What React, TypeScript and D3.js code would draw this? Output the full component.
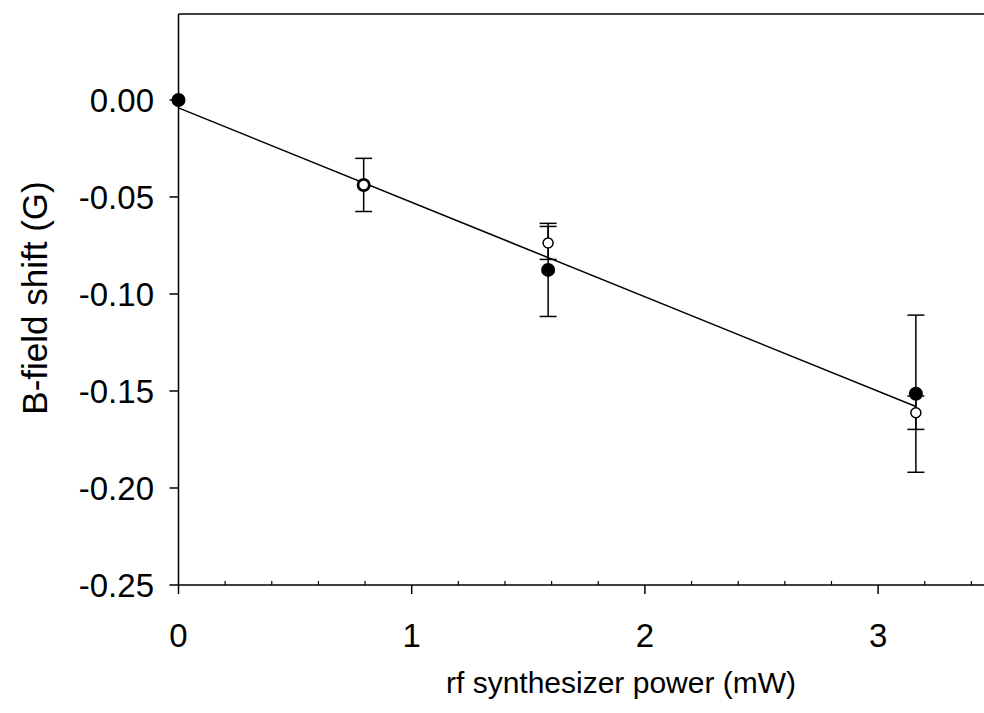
import React from "react";
import * as d3 from "d3";

const W = 984;
const H = 713;

const powerX = [0, 0.794, 1.585, 3.162];
const filledY = [0.0, -0.0438, -0.0876, -0.1514];
const filledErr = [0, 0.0137, 0.024, 0.0405];
const openX = [0.794, 1.585, 3.162];
const openY = [-0.0438, -0.0737, -0.1612];
const openErr = [0, 0.0085, 0.0086];
const fitX = [0, 3.162];
const fitY = [-0.0041, -0.158];

const xMajor = [0, 1, 2, 3];
const xMinor = d3.range(0, 3.5, 0.2).filter((v) => Math.abs(v - Math.round(v)) > 1e-6);
const yTicks = [0.0, -0.05, -0.1, -0.15, -0.2, -0.25];

const xLabel = "rf synthesizer power (mW)";
const yLabel = "B-field shift (G)";

export default function App() {
  const x = d3.scaleLinear().domain([0, 3.5]).range([178.5, 994.7]);
  const y = d3.scaleLinear().domain([-0.25, 0.0443]).range([585, 14]);
  const line = d3
    .line<number>()
    .x((d, i) => x(fitX[i]))
    .y((d) => y(d));
  const font = "'Liberation Sans', Arial, sans-serif";
  const capW = 8.5;
  const errBar = (cx: number, cy: number, e: number, key: string) =>
    e > 0 ? (
      <g key={key} stroke="#000" strokeWidth={1.5}>
        <line x1={x(cx)} x2={x(cx)} y1={y(cy + e)} y2={y(cy - e)} />
        <line x1={x(cx) - capW} x2={x(cx) + capW} y1={y(cy + e)} y2={y(cy + e)} />
        <line x1={x(cx) - capW} x2={x(cx) + capW} y1={y(cy - e)} y2={y(cy - e)} />
      </g>
    ) : null;
  return (
    <svg
      width={W}
      height={H}
      style={{ position: "absolute", left: 0, top: 0, background: "#fff" }}
      fontFamily={font}
    >
      <rect x={0} y={0} width={W} height={H} fill="#fff" />
      {/* frame */}
      <line x1={x(0)} x2={W} y1={y(0.0443)} y2={y(0.0443)} stroke="#000" strokeWidth={1.5} />
      <line x1={x(0)} x2={x(0)} y1={14} y2={585} stroke="#000" strokeWidth={1.5} />
      <line x1={x(0)} x2={W} y1={585} y2={585} stroke="#000" strokeWidth={1.5} />
      {/* x ticks */}
      {xMajor.map((t) => (
        <g key={"xm" + t}>
          <line x1={x(t)} x2={x(t)} y1={585} y2={594} stroke="#000" strokeWidth={1.5} />
          <text x={x(t)} y={647} textAnchor="middle" fontSize={33}>
            {t}
          </text>
        </g>
      ))}
      {xMinor.map((t, i) => (
        <line key={"xn" + i} x1={x(t)} x2={x(t)} y1={585} y2={581} stroke="#000" strokeWidth={1.2} />
      ))}
      {/* y ticks */}
      {yTicks.map((t) => (
        <g key={"y" + t}>
          <line x1={x(0) - 9} x2={x(0)} y1={y(t)} y2={y(t)} stroke="#000" strokeWidth={1.5} />
          <text x={154} y={y(t) + 12} textAnchor="end" fontSize={33}>
            {t.toFixed(2)}
          </text>
        </g>
      ))}
      {/* axis titles */}
      <text x={621} y={693} textAnchor="middle" fontSize={30}>
        {xLabel}
      </text>
      <text
        transform={`translate(47,${298}) rotate(-90)`}
        textAnchor="middle"
        fontSize={35}
      >
        {yLabel}
      </text>
      {/* fit line */}
      <path d={line(fitY) || ""} fill="none" stroke="#000" strokeWidth={1.5} />
      {/* error bars */}
      {powerX.map((px, i) => errBar(px, filledY[i], filledErr[i], "fe" + i))}
      {openX.map((px, i) => errBar(px, openY[i], openErr[i], "oe" + i))}
      {/* filled points */}
      {powerX.map((px, i) => (
        <circle key={"f" + i} cx={x(px)} cy={y(filledY[i])} r={7} fill="#000" />
      ))}
      {/* open points */}
      {openX.map((px, i) => (
        <circle
          key={"o" + i}
          cx={x(px)}
          cy={y(openY[i])}
          r={5}
          fill="#fff"
          stroke="#000"
          strokeWidth={1.5}
        />
      ))}
    </svg>
  );
}
